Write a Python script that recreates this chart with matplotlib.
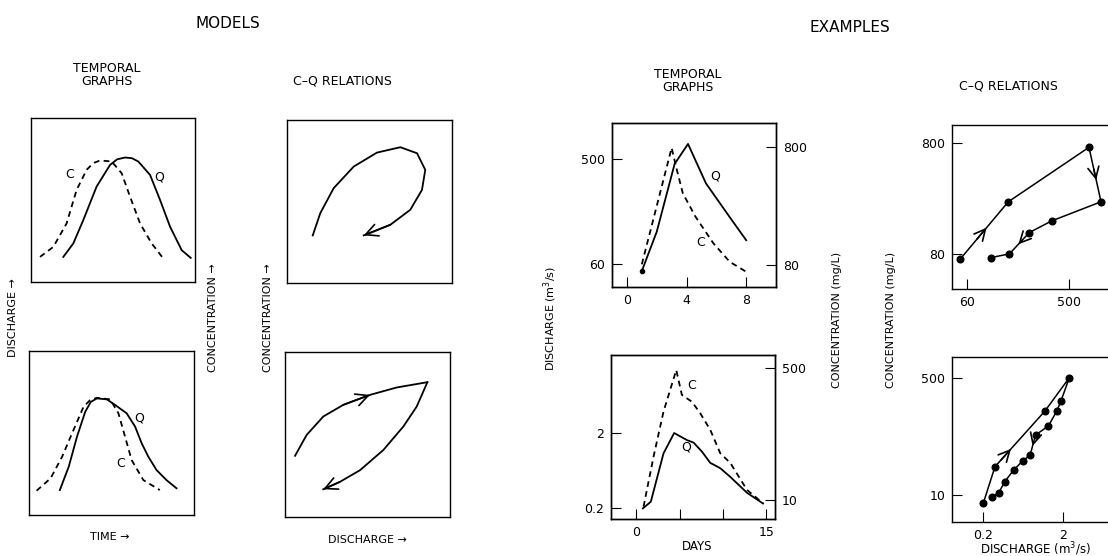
import numpy as np
import matplotlib.pyplot as plt

# ---- model sketches (arbitrary units 0..10) ----
mt1_q_x = [1.97, 2.58, 3.19, 4.00, 4.82, 5.25, 5.73, 6.15, 6.54, 7.26, 7.87, 8.48, 9.19, 9.74]
mt1_q_y = [1.53, 2.35, 3.78, 5.82, 7.14, 7.48, 7.59, 7.55, 7.35, 6.53, 5.00, 3.37, 1.94, 1.47]
mt1_c_x = [0.55, 1.36, 2.17, 2.78, 3.39, 3.80, 4.21, 4.92, 5.53, 6.04, 6.65, 7.36, 8.07]
mt1_c_y = [1.53, 2.14, 3.57, 5.61, 6.84, 7.25, 7.41, 7.35, 6.63, 5.20, 3.57, 2.35, 1.43]

mt2_q_x = [1.87, 2.41, 2.91, 3.41, 3.75, 4.12, 4.72, 5.22, 5.92, 6.43, 6.83, 7.23, 7.73, 8.33, 8.94]
mt2_q_y = [1.52, 2.95, 4.78, 6.30, 6.90, 7.11, 7.05, 6.71, 6.20, 5.39, 4.37, 3.56, 2.74, 2.13, 1.63]
mt2_c_x = [0.46, 1.31, 2.01, 2.61, 3.31, 3.70, 4.12, 4.92, 5.42, 5.82, 6.22, 6.93, 7.93]
mt2_c_y = [1.48, 2.24, 3.56, 4.98, 6.61, 7.00, 7.15, 7.05, 6.20, 4.78, 3.35, 2.13, 1.52]

cq1_x = [1.56, 2.02, 2.83, 4.04, 5.45, 6.87, 7.88, 8.38, 8.18, 7.47, 6.26, 4.65]
cq1_y = [2.92, 4.29, 5.82, 7.14, 8.00, 8.33, 7.96, 6.94, 5.71, 4.49, 3.57, 2.92]

cq2_up_x = [0.61, 1.31, 2.32, 3.54, 5.15, 6.77, 8.63]
cq2_up_y = [3.71, 4.97, 6.09, 6.80, 7.40, 7.85, 8.17]
cq2_dn_x = [8.63, 7.98, 7.17, 5.96, 4.55, 3.33, 2.32]
cq2_dn_y = [8.17, 6.69, 5.48, 4.06, 2.84, 2.13, 1.68]

# ---- examples ----
ex1_day_q = [1, 2, 3.2, 4.1, 5.3, 6.8, 8]
ex1_q = [52, 115, 453, 678, 306, 161, 97]
ex1_day_c = [1, 3.0, 3.35, 3.75, 4.6, 5.8, 6.9, 8]
ex1_c = [81, 787, 511, 324, 205, 122, 85, 70]

ex2_day_q = [0.77, 1.69, 3.15, 4.38, 5.85, 6.62, 7.58, 8.54, 9.69, 10.85, 12.77, 14.62]
ex2_q = [0.198, 0.243, 1.07, 2.0, 1.61, 1.49, 1.13, 0.80, 0.68, 0.52, 0.32, 0.23]
ex2_day_c = [0.85, 2.0, 3.15, 4.62, 5.27, 6.42, 7.38, 8.54, 9.69, 10.85, 12.77, 14.62]
ex2_c = [8.2, 36, 137, 471, 225, 184, 131, 80, 40, 30, 13.5, 9.1]

ex3_q = [51.9, 141.6, 758, 974, 349, 219, 145, 98.8]
ex3_c = [72, 236, 726, 236, 159, 125, 80.5, 74.6]
ex3_arrows = [(0, 0.55), (2, 0.6), (5, 0.55)]

ex4_q = [0.2, 0.28, 1.18, 2.38, 1.87, 1.66, 1.30, 0.90, 0.77, 0.62, 0.48, 0.37, 0.31, 0.26]
ex4_c = [7.6, 25.8, 167, 510, 233, 167, 101, 74.7, 38.2, 31.3, 23.1, 15.6, 10.6, 9.5]
ex4_arrows = [(1, 0.32), (7, 0.55)]

W, H = 1108, 556
fig = plt.figure(figsize=(W / 100, H / 100), dpi=100)
plt.rcParams['font.family'] = 'DejaVu Sans'

LW = 1.3
DASH = (0, (3.2, 2.4))


def box(x0, y0, x1, y1):
    return [x0 / W, 1 - y1 / H, (x1 - x0) / W, (y1 - y0) / H]


def model_ax(rect):
    ax = fig.add_axes(rect)
    ax.set_xlim(0, 10)
    ax.set_ylim(0, 10)
    ax.set_xticks([])
    ax.set_yticks([])
    for s in ax.spines.values():
        s.set_linewidth(1.0)
    return ax


def arrow(ax, x0, y0, x1, y1, ms=18):
    ax.annotate('', xy=(x1, y1), xytext=(x0, y0),
                arrowprops=dict(arrowstyle='->', lw=1.2, color='k',
                                mutation_scale=ms, shrinkA=0, shrinkB=0))


def seg_point(xs, ys, i, f):
    # geometric position along a segment (log axes)
    x = xs[i] * (xs[i + 1] / xs[i]) ** f
    y = ys[i] * (ys[i + 1] / ys[i]) ** f
    return x, y


def log_style(ax):
    ax.tick_params(direction='in', length=7, width=0.8, labelsize=9, pad=5)
    for s in ax.spines.values():
        s.set_linewidth(1.0)


# Models: temporal graphs
ax1 = model_ax(box(31, 118, 195, 282))
ax1.plot(mt1_q_x, mt1_q_y, 'k-', lw=LW)
ax1.plot(mt1_c_x, mt1_c_y, 'k', ls=DASH, lw=LW)
ax1.text(2.38, 6.53, 'C', fontsize=9, ha='center', va='center')
ax1.text(7.83, 6.39, 'Q', fontsize=9, ha='center', va='center')

ax2 = model_ax(box(29, 351, 194, 515))
ax2.plot(mt2_q_x, mt2_q_y, 'k-', lw=LW)
ax2.plot(mt2_c_x, mt2_c_y, 'k', ls=DASH, lw=LW)
ax2.text(6.69, 5.93, 'Q', fontsize=9, ha='center', va='center')
ax2.text(5.58, 3.15, 'C', fontsize=9, ha='center', va='center')

# Models: C-Q relations
ax3 = model_ax(box(287, 120, 452, 283))
ax3.plot(cq1_x, cq1_y, 'k-', lw=LW)
arrow(ax3, cq1_x[-2], cq1_y[-2], cq1_x[-1], cq1_y[-1], ms=22)

ax4 = model_ax(box(285, 352, 450, 517))
ax4.plot(cq2_up_x, cq2_up_y, 'k-', lw=LW)
ax4.plot(cq2_dn_x, cq2_dn_y, 'k-', lw=LW)
arrow(ax4, cq2_up_x[3], cq2_up_y[3], cq2_up_x[4], cq2_up_y[4], ms=22)
arrow(ax4, cq2_dn_x[-2], cq2_dn_y[-2], cq2_dn_x[-1], cq2_dn_y[-1], ms=22)

# Examples: temporal graphs
ax5 = fig.add_axes(box(612, 123, 776, 287))
ax5.set_yscale('log')
ax5.plot(ex1_day_q, ex1_q, 'k-', lw=LW)
ax5.set_xlim(-1, 10)
ax5.set_ylim(37.7, 1035)
ax5.set_xticks([0, 4, 8])
ax5.set_yticks([60, 500])
ax5.set_yticklabels(['60', '500'])
ax5.yaxis.set_minor_locator(plt.NullLocator())
ax5r = ax5.twinx()
ax5r.set_yscale('log')
ax5r.plot(ex1_day_c, ex1_c, 'k', ls=DASH, lw=LW)
ax5r.set_ylim(52, 1277)
ax5r.set_yticks([80, 800])
ax5r.set_yticklabels(['80', '800'])
ax5r.yaxis.set_minor_locator(plt.NullLocator())
log_style(ax5)
log_style(ax5r)
ax5.plot([ex1_day_q[0]], [ex1_q[0]], 'ko', ms=3)
ax5.text(0.628, 0.677, 'Q', transform=ax5.transAxes, fontsize=9, ha='center', va='center')
ax5.text(0.543, 0.270, 'C', transform=ax5.transAxes, fontsize=9, ha='center', va='center')

ax6 = fig.add_axes(box(611, 355, 775, 519))
ax6.set_yscale('log')
ax6.plot(ex2_day_q, ex2_q, 'k-', lw=LW)
ax6.set_xlim(-2.9, 16.0)
ax6.set_ylim(0.143, 21.9)
ax6.set_xticks([0, 5, 10, 15])
ax6.set_xticklabels(['0', '', '', '15'])
ax6.set_yticks([0.2, 2])
ax6.set_yticklabels(['0.2', '2'])
ax6.yaxis.set_minor_locator(plt.NullLocator())
ax6r = ax6.twinx()
ax6r.set_yscale('log')
ax6r.plot(ex2_day_c, ex2_c, 'k', ls=DASH, lw=LW)
ax6r.set_ylim(5.7, 735)
ax6r.set_yticks([10, 500])
ax6r.set_yticklabels(['10', '500'])
ax6r.yaxis.set_minor_locator(plt.NullLocator())
log_style(ax6)
log_style(ax6r)
ax6.text(0.492, 0.817, 'C', transform=ax6.transAxes, fontsize=9, ha='center', va='center')
ax6.text(0.457, 0.441, 'Q', transform=ax6.transAxes, fontsize=9, ha='center', va='center')

# Examples: C-Q relations
ax7 = fig.add_axes(box(952, 125, 1116, 289))
ax7.set_xscale('log')
ax7.set_yscale('log')
ax7.plot(ex3_q, ex3_c, 'k-o', lw=1.1, ms=4.8)
ax7.set_xlim(43.9, 1330)
ax7.set_ylim(39, 1151)
ax7.set_xticks([60, 500])
ax7.set_xticklabels(['60', '500'])
ax7.set_yticks([80, 800])
ax7.set_yticklabels(['80', '800'])
ax7.xaxis.set_minor_locator(plt.NullLocator())
ax7.yaxis.set_minor_locator(plt.NullLocator())
log_style(ax7)
for i, f in ex3_arrows:
    a = seg_point(ex3_q, ex3_c, i, f - 0.2)
    b = seg_point(ex3_q, ex3_c, i, f)
    arrow(ax7, a[0], a[1], b[0], b[1], ms=20)

ax8 = fig.add_axes(box(952, 357, 1116, 522))
ax8.set_xscale('log')
ax8.set_yscale('log')
ax8.plot(ex4_q, ex4_c, 'k-o', lw=1.1, ms=4.8)
ax8.set_xlim(0.0813, 9.12)
ax8.set_ylim(4.05, 1021)
ax8.set_xticks([0.2, 2])
ax8.set_xticklabels(['0.2', '2'])
ax8.set_yticks([10, 500])
ax8.set_yticklabels(['10', '500'])
ax8.xaxis.set_minor_locator(plt.NullLocator())
ax8.yaxis.set_minor_locator(plt.NullLocator())
log_style(ax8)
for i, f in ex4_arrows:
    a = seg_point(ex4_q, ex4_c, i, f - 0.2)
    b = seg_point(ex4_q, ex4_c, i, f)
    arrow(ax8, a[0], a[1], b[0], b[1], ms=20)


# ---- headings and axis words ----
def ftext(x, y, s, size=8, rot=0, **kw):
    fig.text(x / W, 1 - y / H, s, fontsize=size, rotation=rot,
             ha='center', va='center', **kw)


ftext(228, 23, 'MODELS', 11)
ftext(850, 27, 'EXAMPLES', 11)
ftext(107, 75, 'TEMPORAL\nGRAPHS', 9, linespacing=1.0)
ftext(342, 81, 'C–Q RELATIONS', 9)
ftext(688, 81, 'TEMPORAL\nGRAPHS', 9, linespacing=1.0)
ftext(1008, 86, 'C–Q RELATIONS', 9)

ftext(13, 318, 'DISCHARGE →', 8, rot=90)
ftext(213, 318, 'CONCENTRATION →', 8, rot=90)
ftext(268, 318, 'CONCENTRATION →', 8, rot=90)
ftext(110, 537, 'TIME →', 8)
ftext(367, 540, 'DISCHARGE →', 8)

ftext(550, 318, 'DISCHARGE (m$^3$/s)', 8, rot=90)
ftext(837, 320, 'CONCENTRATION (mg/L)', 8, rot=90)
ftext(891, 320, 'CONCENTRATION (mg/L)', 8, rot=90)
ftext(697, 547, 'DAYS', 8.5)
ftext(1035, 549, 'DISCHARGE (m$^3$/s)', 8.5)

fig.savefig('out.png', dpi=100)
